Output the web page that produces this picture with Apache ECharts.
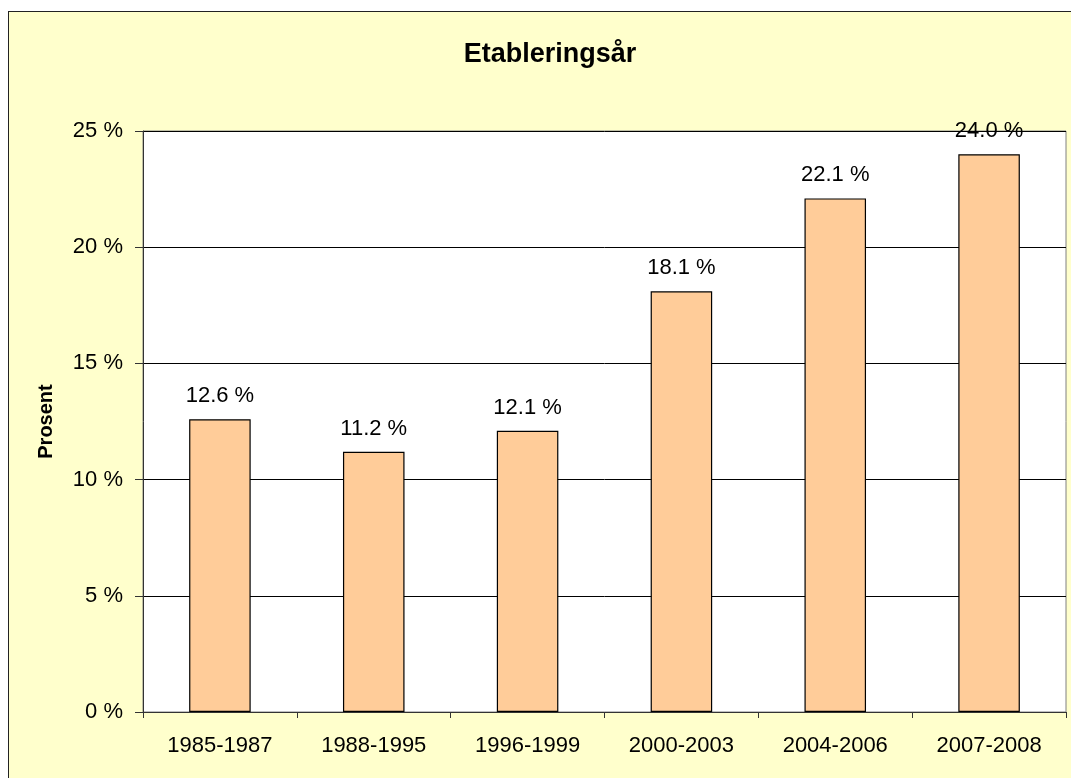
<!DOCTYPE html>
<html>
<head>
<meta charset="utf-8">
<script src="https://cdn.jsdelivr.net/npm/echarts@6/dist/echarts.min.js"></script>
<style>
  html, body { margin: 0; padding: 0; background: #fff; overflow: hidden; }
  #frame { position: absolute; left: 8px; top: 11px; width: 1075px; height: 790px;
           border: 1px solid #222; background: #FFFFCC; }
  #chart { position: absolute; left: 0; top: 0; width: 1071px; height: 778px; }
</style>
</head>
<body>
<div id="frame"></div>
<div id="chart"></div>
<script>
// periods and their share (percent)
const periods = ['1985-1987', '1988-1995', '1996-1999', '2000-2003', '2004-2006', '2007-2008'];
const shares = [12.6, 11.2, 12.1, 18.1, 22.1, 24.0];
const yTicks = { min: 0, max: 25, interval: 5 };

const chart = echarts.init(document.getElementById('chart'), null, { renderer: 'canvas' });

const font = 'Liberation Sans, Arial, sans-serif';

chart.setOption({
  backgroundColor: 'transparent',
  textStyle: { fontFamily: font },
  title: {
    text: 'Etableringsår',
    left: 545,
    textAlign: 'center',
    top: 36,
    textStyle: { fontFamily: font, fontSize: 27, fontWeight: 'bold', color: '#000' }
  },
  grid: {
    left: 143, top: 131, right: 5, height: 581,
    show: true, backgroundColor: '#fff', borderColor: '#808080', borderWidth: 1
  },
  xAxis: {
    type: 'category',
    data: periods,
    boundaryGap: true,
    axisLine: { lineStyle: { color: '#333', width: 1 } },
    axisTick: { show: true, length: 6, alignWithLabel: false, lineStyle: { color: '#333' } },
    axisLabel: { color: '#000', fontSize: 22, margin: 23, fontFamily: font }
  },
  yAxis: {
    type: 'value',
    min: yTicks.min, max: yTicks.max, interval: yTicks.interval,
    name: 'Prosent',
    nameLocation: 'middle',
    nameGap: 87,
    nameRotate: 90,
    nameTextStyle: { fontSize: 20, fontWeight: 'bold', color: '#000', fontFamily: font,
                     padding: [0, 0, 0, 0] },
    axisLine: { show: true, lineStyle: { color: '#333', width: 1 } },
    axisTick: { show: true, length: 8, lineStyle: { color: '#333' } },
    axisLabel: { color: '#000', fontSize: 22, margin: 20, fontFamily: font,
                 formatter: v => v + ' %' },
    splitLine: { show: true, lineStyle: { color: '#000', width: 1 } }
  },
  series: [{
    type: 'bar',
    data: shares,
    barWidth: '40%',
    itemStyle: { color: '#FFCC99', borderColor: '#000', borderWidth: 1.2 },
    label: {
      show: true, position: 'top', distance: 12,
      color: '#000', fontSize: 22, fontFamily: font,
      formatter: p => p.value.toFixed(1) + ' %'
    },
    animation: false
  }],
  animation: false
});
</script>
</body>
</html>
